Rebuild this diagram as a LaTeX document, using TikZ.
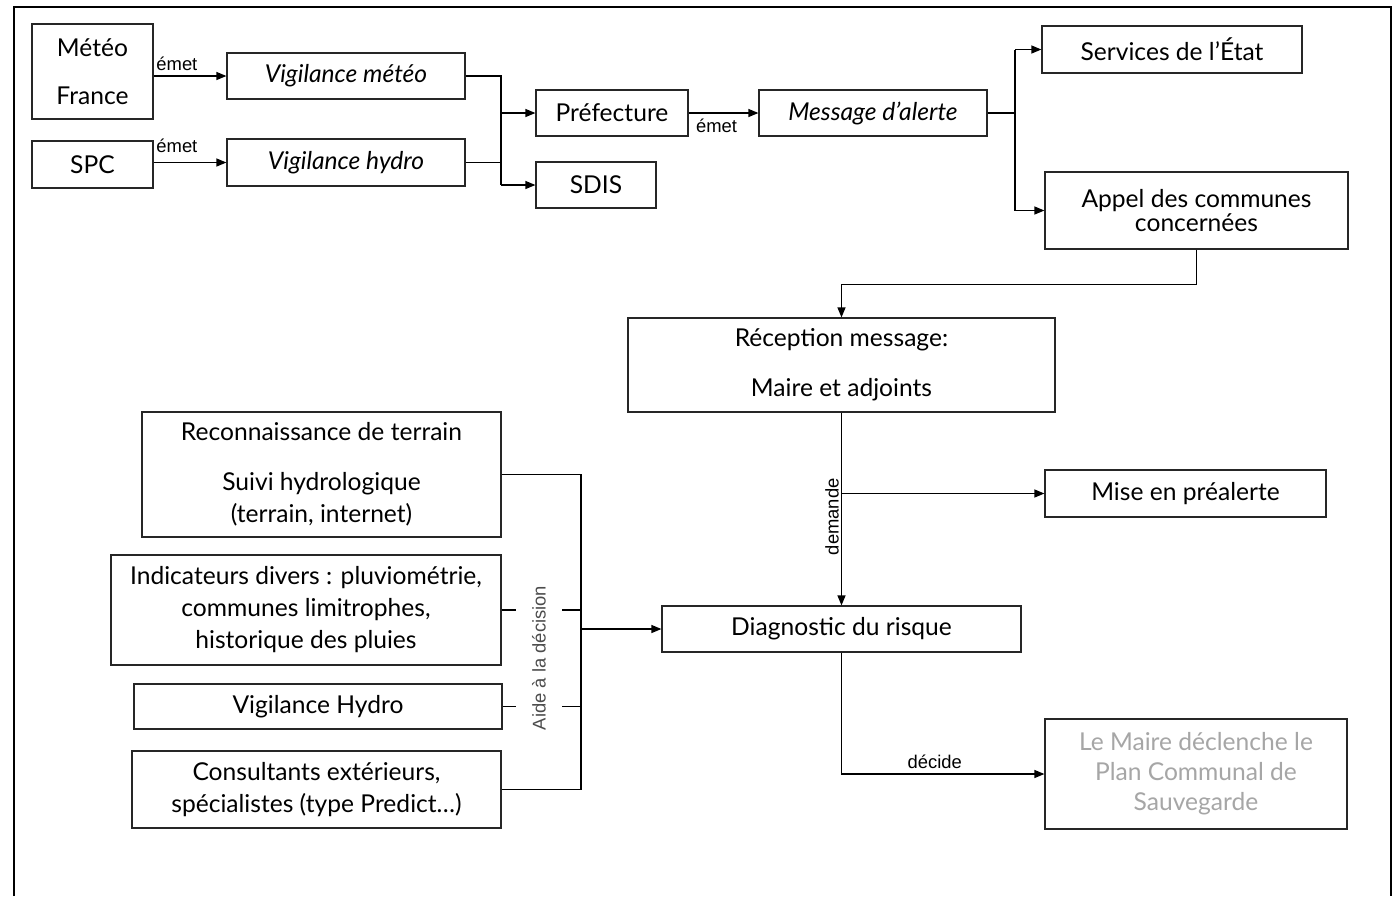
\documentclass[tikz,border=0pt]{standalone}
\usepackage{fontspec}
\setmainfont{Lato}
\newfontfamily\lblfont{Liberation Sans}
\usetikzlibrary{arrows.meta,positioning}

\begin{document}
\begin{tikzpicture}[x=0.5pt,y=-0.5pt,line width=0.6pt,
    >={Triangle[length=5pt,width=4pt]},
    box/.style={draw=black!85,align=center,inner sep=1pt,
      font=\fontsize{12.3}{16}\selectfont},
    lbl/.style={font=\lblfont\fontsize{9.2}{11}\selectfont,inner sep=1.5pt}]

  % page and frame
  \fill[white] (0,0) rectangle (1394,896);
  \useasboundingbox (0,0) rectangle (1394,896);
  \draw[line width=1.4pt] (14,896) -- (14,7) -- (1391,7) -- (1391,896);

  % top row: sources and vigilance
  \node[box,minimum width=60.5pt,minimum height=47.5pt] (meteo) at (92.5,71.5) {Météo\\[8pt]France};
  \node[box,minimum width=60.5pt,minimum height=23.5pt] (spc) at (92.5,164.5) {SPC};
  \node[box,minimum width=119pt,minimum height=23pt] (vmeteo) at (346,76) {\itshape Vigilance météo};
  \node[box,minimum width=119pt,minimum height=23.5pt] (vhydro) at (346,162.5) {\itshape Vigilance hydro};
  \node[box,minimum width=76pt,minimum height=23pt] (pref) at (612,113) {Préfecture};
  \node[box,minimum width=60pt,minimum height=23pt] (sdis) at (596,185) {SDIS};
  \node[box,minimum width=114pt,minimum height=23pt] (msg) at (873,113) {\itshape Message d’alerte};
  \node[box,minimum width=130pt,minimum height=23.5pt] (etat) at (1172,49.5) {Services de l’État};
  \node[box,minimum width=151.5pt,minimum height=38.5pt] (appel) at (1196.5,210.5) {Appel des communes\\[-4pt]concernées};

  % commune side
  \node[box,minimum width=213.5pt,minimum height=47pt] (recep) at (841.5,365) {Réception message:\\[9pt]Maire et adjoints};
  \node[box,minimum width=140.5pt,minimum height=23.5pt] (mise) at (1185.5,493.5) {Mise en préalerte};
  \node[box,minimum width=179.5pt,minimum height=23pt] (diag) at (841.5,629) {Diagnostic du risque};
  \node[box,minimum width=151pt,minimum height=55pt,text=black!35,
    font=\fontsize{12.3}{15}\selectfont] (maire) at (1196,774) {Le Maire déclenche le\\Plan Communal de\\Sauvegarde};

  % decision aids
  \node[box,minimum width=179.5pt,minimum height=62.5pt] (recon) at (321.5,474.5) {Reconnaissance de terrain\\[9pt]Suivi hydrologique\\(terrain, internet)};
  \node[box,minimum width=195pt,minimum height=55pt] (indic) at (306,610) {Indicateurs divers : pluviométrie,\\communes limitrophes,\\historique des pluies};
  \node[box,minimum width=184pt,minimum height=22.5pt] (vhydro2) at (318,706.5) {Vigilance Hydro};
  \node[box,minimum width=184.5pt,minimum height=38.5pt] (consult) at (316.5,789.5) {Consultants extérieurs,\\spécialistes (type Predict…)};

  \coordinate (j1) at (501,0);
  \coordinate (j2) at (1015,0);
  \coordinate (bus) at (581,0);

  % alerts
  \draw[->] (meteo.east |- vmeteo.west) -- (vmeteo.west)
    node[lbl,pos=0.32,above=1pt] {émet};
  \draw[->] (spc.east |- vhydro.west) -- (vhydro.west)
    node[lbl,pos=0.32,above=3pt] {émet};
  \draw (vmeteo.east) -- (vmeteo.east -| j1) -- (j1 |- sdis.west);
  \draw (vhydro.east) -- (vhydro.east -| j1);
  \draw[->] (j1 |- pref.west) -- (pref.west);
  \draw[->] (j1 |- sdis.west) -- (sdis.west);
  \draw[->] (pref.east) -- (msg.west)
    node[lbl,pos=0.4,below=1pt] {émet};
  \draw (msg.east) -- (msg.east -| j2);
  \draw (j2 |- etat.west) -- (j2 |- appel.west);
  \draw[->] (j2 |- etat.west) -- (etat.west);
  \draw[->] (j2 |- appel.west) -- (appel.west);
  \draw[->] (appel.south) -- ++(0,35) -| (recep.north);

  % mayor
  \draw[->] (recep.south) -- (diag.north)
    node[lbl,pos=0.54,rotate=90,anchor=south,inner sep=1pt] {demande};
  \draw[->] (recep.south |- mise.west) -- (mise.west);
  \draw[->] (diag.south) |- (maire.west)
    node[lbl,pos=0.73,above=1pt] {décide};

  % decision aid bus
  \draw (recon.east) -- (recon.east -| bus) -- (bus |- consult.east) -- (consult.east);
  \draw (indic.east) -- (indic.east -| bus);
  \draw (vhydro2.east) -- (vhydro2.east -| bus);
  \draw[line width=1pt] (bus |- diag.west) -- (bus |- vhydro2.east);
  \draw[->] (bus |- diag.west) -- (diag.west);
  \node[lbl,rotate=90,fill=white,text=black!70,inner ysep=8pt,inner xsep=1pt] (aide) at (539,658) {Aide à la décision};
\end{tikzpicture}
\end{document}
